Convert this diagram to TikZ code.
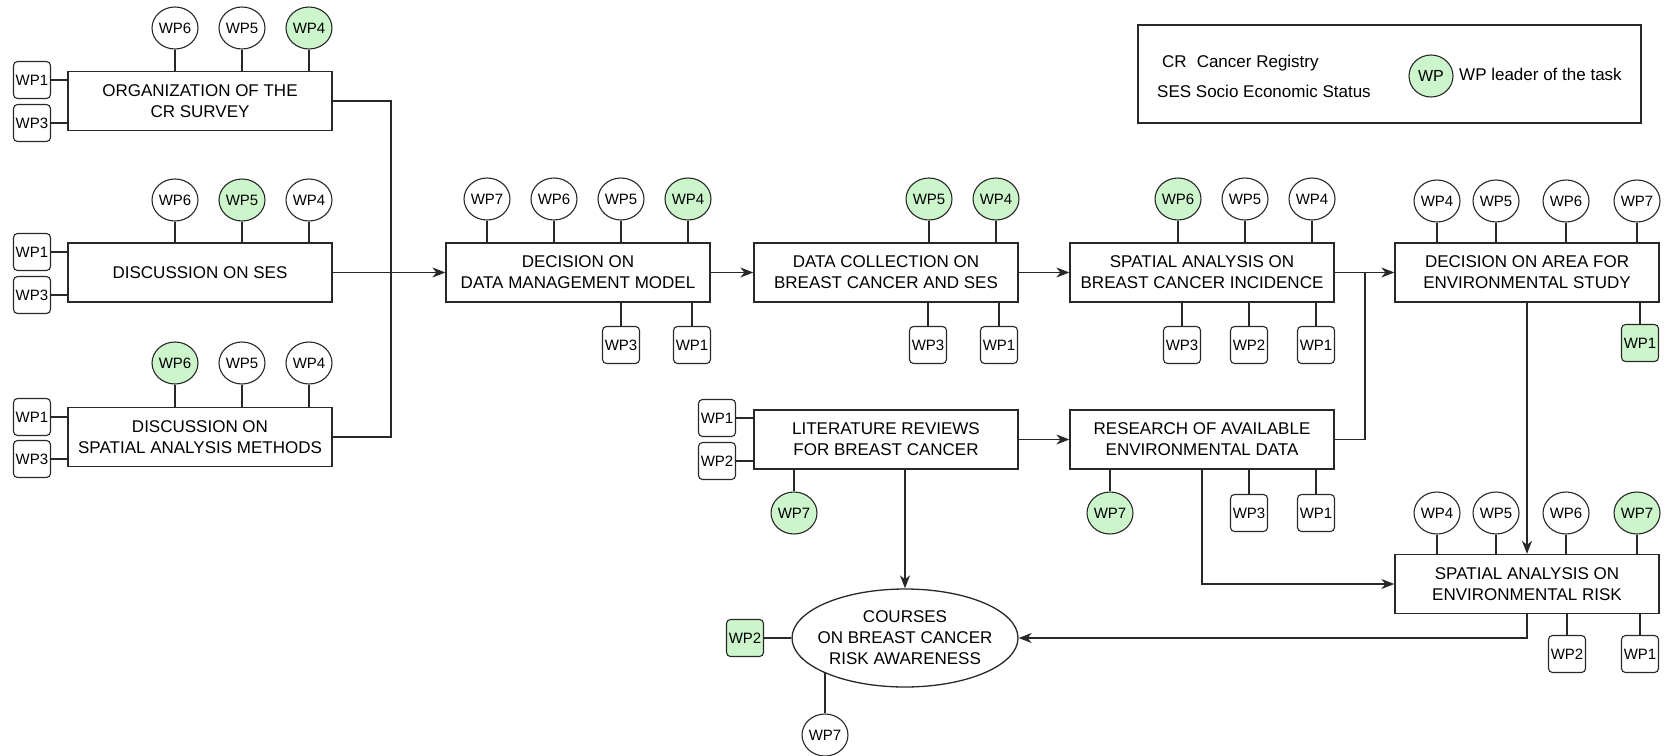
\documentclass[tikz,border=0pt]{standalone}
\usepackage{fontspec}
\setmainfont{Liberation Sans}
\usetikzlibrary{shapes.geometric,arrows.meta}
\definecolor{lg}{RGB}{204,245,204}
\definecolor{ln}{RGB}{40,40,40}
\begin{document}
\begin{tikzpicture}[x=1pt,y=-1pt,
 task/.style={draw=ln,line width=1.3pt,fill=white,minimum width=264pt,minimum height=59pt,inner sep=0pt,align=center,font=\fontsize{17}{21}\selectfont},
 wpc/.style={ellipse,draw=ln,line width=1.1pt,fill=white,minimum width=44pt,minimum height=42pt,inner sep=0pt,font=\fontsize{15}{18}\selectfont},
 wpb/.style={rectangle,rounded corners=4pt,draw=ln,line width=1.1pt,fill=white,minimum width=37pt,minimum height=37pt,inner sep=0pt,font=\fontsize{15}{18}\selectfont},
 lead/.style={fill=lg},
 link/.style={draw=ln,line width=1.3pt},
 flow/.style={link,-{Stealth[length=13pt,width=10pt,inset=4pt]}},
 legtext/.style={anchor=base west,inner sep=0pt,font=\fontsize{17}{20}\selectfont},
]
\useasboundingbox (0,0) rectangle (1667,755);

% ---------- task boxes ----------
\node[task] (b1) at (200,101) {ORGANIZATION OF THE\\CR SURVEY};
\node[task] (b2) at (200,272.5) {DISCUSSION ON SES};
\node[task] (b3) at (200,437) {DISCUSSION ON\\SPATIAL ANALYSIS METHODS};
\node[task] (dm) at (578,272.5) {DECISION ON\\DATA MANAGEMENT MODEL};
\node[task] (dc) at (886,272.5) {DATA COLLECTION ON\\BREAST CANCER AND SES};
\node[task] (sbc) at (1202,272.5) {SPATIAL ANALYSIS ON\\BREAST CANCER INCIDENCE};
\node[task] (area) at (1527,272.5) {DECISION ON AREA FOR\\ENVIRONMENTAL STUDY};
\node[task] (lit) at (886,439.5) {LITERATURE REVIEWS\\FOR BREAST CANCER};
\node[task] (res) at (1202,439.5) {RESEARCH OF AVAILABLE\\ENVIRONMENTAL DATA};
\node[task] (env) at (1527,584) {SPATIAL ANALYSIS ON\\ENVIRONMENTAL RISK};
\node[ellipse,draw=ln,line width=1.3pt,fill=white,minimum width=226pt,minimum height=98pt,inner xsep=-12pt,inner ysep=0pt,align=center,font=\fontsize{17}{21}\selectfont] (ell) at (905,638) {COURSES\\ON BREAST CANCER\\RISK AWARENESS};

% ---------- legend ----------
\node[draw=ln,line width=1.2pt,minimum width=503pt,minimum height=98pt,inner sep=0pt] (leg) at (1389.5,74) {};
\node[legtext] (legcr) at (1162,67) {CR\hspace{10pt}Cancer Registry};
\node[legtext] (legses) at (1157,97) {SES Socio Economic Status};
\node[wpc,lead,font=\fontsize{16}{19}\selectfont] (legwp) at (1431,76) {WP};
\node[legtext] (legld) at (1459,80) {WP leader of the task};

% ---------- WP circles ----------
\node[wpc] (b1c6) at (175,28) {WP6};
\node[wpc] (b1c5) at (242,28) {WP5};
\node[wpc,lead] (b1c4) at (309,28) {WP4};
\node[wpc] (b2c6) at (175,200) {WP6};
\node[wpc,lead] (b2c5) at (242,200) {WP5};
\node[wpc] (b2c4) at (309,200) {WP4};
\node[wpc,lead] (b3c6) at (175,363) {WP6};
\node[wpc] (b3c5) at (242,363) {WP5};
\node[wpc] (b3c4) at (309,363) {WP4};
\node[wpc] (dmc7) at (487,199) {WP7};
\node[wpc] (dmc6) at (554,199) {WP6};
\node[wpc] (dmc5) at (621,199) {WP5};
\node[wpc,lead] (dmc4) at (688,199) {WP4};
\node[wpc,lead] (dcc5) at (929,199) {WP5};
\node[wpc,lead] (dcc4) at (996,199) {WP4};
\node[wpc,lead] (sbcc6) at (1178,199) {WP6};
\node[wpc] (sbcc5) at (1245,199) {WP5};
\node[wpc] (sbcc4) at (1312,199) {WP4};
\node[wpc] (arc4) at (1437,201) {WP4};
\node[wpc] (arc5) at (1496,201) {WP5};
\node[wpc] (arc6) at (1566,201) {WP6};
\node[wpc] (arc7) at (1637,201) {WP7};
\node[wpc] (envc4) at (1437,513) {WP4};
\node[wpc] (envc5) at (1496,513) {WP5};
\node[wpc] (envc6) at (1566,513) {WP6};
\node[wpc,lead] (envc7) at (1637,513) {WP7};
\node[wpc,lead] (litc7) at (794,513) {WP7};
\node[wpc,lead] (resc7) at (1110,513) {WP7};
\node[wpc] (ellc7) at (825,735) {WP7};

% ---------- WP boxes ----------
\node[wpb] (b1w1) at (32,80) {WP1};
\node[wpb] (b1w3) at (32,123) {WP3};
\node[wpb] (b2w1) at (32,252) {WP1};
\node[wpb] (b2w3) at (32,295) {WP3};
\node[wpb] (b3w1) at (32,417) {WP1};
\node[wpb] (b3w3) at (32,459) {WP3};
\node[wpb] (dmw3) at (621,345) {WP3};
\node[wpb] (dmw1) at (692,345) {WP1};
\node[wpb] (dcw3) at (928,345) {WP3};
\node[wpb] (dcw1) at (999,345) {WP1};
\node[wpb] (sbcw3) at (1182,345) {WP3};
\node[wpb] (sbcw2) at (1249,345) {WP2};
\node[wpb] (sbcw1) at (1316,345) {WP1};
\node[wpb,lead] (arw1) at (1640,343) {WP1};
\node[wpb] (resw3) at (1249,513) {WP3};
\node[wpb] (resw1) at (1316,513) {WP1};
\node[wpb] (envw2) at (1567,654) {WP2};
\node[wpb] (envw1) at (1640,654) {WP1};
\node[wpb] (litw1) at (717,418) {WP1};
\node[wpb] (litw2) at (717,461) {WP2};
\node[wpb,lead] (ellw2) at (745,638) {WP2};

% ---------- satellite links ----------
\foreach \c/\b in {b1c6/b1,b1c5/b1,b1c4/b1,b2c6/b2,b2c5/b2,b2c4/b2,b3c6/b3,b3c5/b3,b3c4/b3,
  dmc7/dm,dmc6/dm,dmc5/dm,dmc4/dm,dcc5/dc,dcc4/dc,sbcc6/sbc,sbcc5/sbc,sbcc4/sbc,
  arc4/area,arc5/area,arc6/area,arc7/area,envc4/env,envc5/env,envc6/env,envc7/env}
  \draw[link] (\c.south) -- (\c.south |- \b.north);
\foreach \w/\b in {dmw3/dm,dmw1/dm,dcw3/dc,dcw1/dc,sbcw3/sbc,sbcw2/sbc,sbcw1/sbc,arw1/area,
  resw3/res,resw1/res,envw2/env,envw1/env}
  \draw[link] (\w.north) -- (\w.north |- \b.south);
\foreach \w/\b in {b1w1/b1,b1w3/b1,b2w1/b2,b2w3/b2,b3w1/b3,b3w3/b3,litw1/lit,litw2/lit}
  \draw[link] (\w.east) -- (\w.east -| \b.west);
\draw[link] (litc7.north) -- (litc7.north |- lit.south);
\draw[link] (resc7.north) -- (resc7.north |- res.south);
\draw[link] (ellw2.east) -- (ell.west);
\draw[link] (ellc7.north) -- (ellc7.north |- ell.204);

% ---------- flow ----------
\coordinate (jl) at (391,0);
\coordinate (jr) at (1365,0);
\draw[link] (b1.east) -- (b1.east -| jl) -- (b3.east -| jl) -- (b3.east);
\draw[flow] (b2.east) -- (dm.west);
\draw[flow] (dm.east) -- (dc.west);
\draw[flow] (dc.east) -- (sbc.west);
\draw[flow] (sbc.east) -- (area.west);
\draw[link] (res.east) -- (res.east -| jr) -- (jr |- sbc.east);
\draw[flow] (lit.east) -- (res.west);
\draw[flow] (area.south) -- (env.north);
\draw[flow] (res.south) |- (env.west);
\draw[flow] (env.south) |- (ell.east);
\draw[flow] (ell.north |- lit.south) -- (ell.north);
\end{tikzpicture}
\end{document}
